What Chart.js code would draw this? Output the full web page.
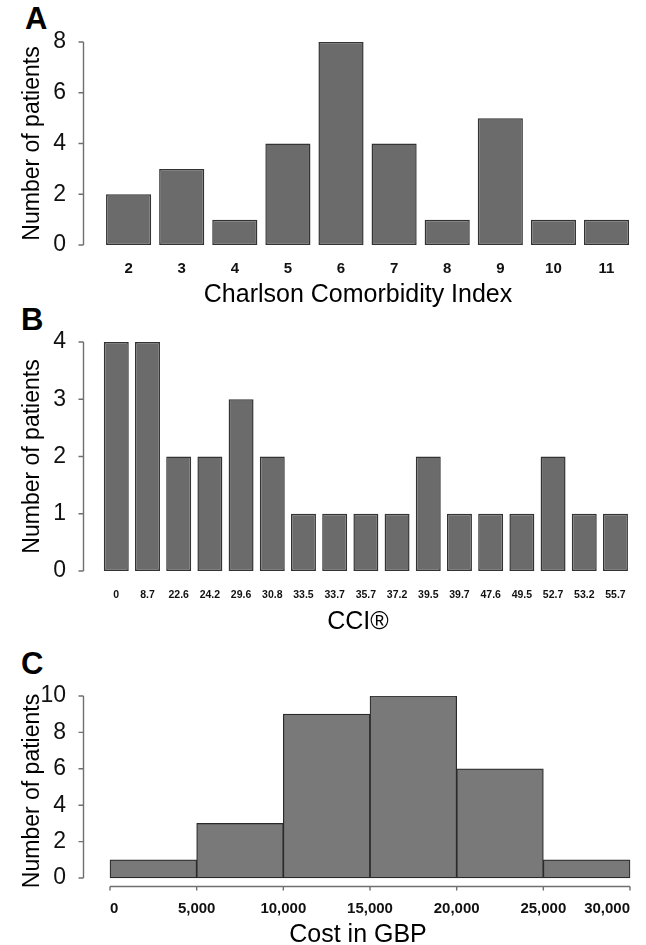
<!DOCTYPE html>
<html lang="en">
<head>
  <meta charset="UTF-8">
  <title>Patient distributions</title>
  <script src="https://cdn.jsdelivr.net/npm/chart.js"></script>
  <style>
    html, body {
      margin: 0;
      padding: 0;
      background: #fff;
      overflow: hidden;
    }
    #wrap {
      position: relative;
      width: 646px;
      height: 945px;
    }
    canvas {
      position: absolute;
      left: 0;
    }
    .tag {
      position: absolute;
      font-family: 'Liberation Sans', Arial, sans-serif;
      font-weight: bold;
      font-size: 31px;
      line-height: 31px;
      color: #000;
    }
  </style>
</head>
<body>
<div id="wrap">
  <div class="tag" style="left:25px; top:3px;">A</div>
  <div class="tag" style="left:21px; top:304px;">B</div>
  <div class="tag" style="left:21px; top:648px;">C</div>
  <canvas id="chartA" width="646" height="312" style="top:0px;"></canvas>
  <canvas id="chartB" width="646" height="325" style="top:312px;"></canvas>
  <canvas id="chartC" width="646" height="308" style="top:637px;"></canvas>
</div>

<script>
  // Panel A: Charlson Comorbidity Index
  const charlsonScores = [2, 3, 4, 5, 6, 7, 8, 9, 10, 11];
  const charlsonCounts = [2, 3, 1, 4, 8, 4, 1, 5, 1, 1];
  const charlsonTicks = [0, 2, 4, 6, 8];

  // Panel B: CCI
  const cciLabels = ['0', '8.7', '22.6', '24.2', '29.6', '30.8', '33.5', '33.7', '35.7',
                     '37.2', '39.5', '39.7', '47.6', '49.5', '52.7', '53.2', '55.7'];
  const cciCounts = [4, 4, 2, 2, 3, 2, 1, 1, 1, 1, 2, 1, 1, 1, 2, 1, 1];
  const cciTicks = [0, 1, 2, 3, 4];

  // Panel C: cost histogram (5,000 GBP bins)
  const costBinMids = [2500, 7500, 12500, 17500, 22500, 27500];
  const costCounts = [1, 3, 9, 10, 6, 1];
  const costXTicks = [0, 5000, 10000, 15000, 20000, 25000, 30000];
  const costYTicks = [0, 2, 4, 6, 8, 10];

  const FONT = "'Liberation Sans', Arial, sans-serif";
  const AXIS_GREY = '#6f6f6f';

  // R-style axis line: only from first to last tick, plus the tick marks
  const rAxes = {
    id: 'rAxes',
    afterDraw(chart) {
      const ctx = chart.ctx;
      const area = chart.chartArea;
      const axes = chart.config.options.rLines || [];
      ctx.save();
      ctx.strokeStyle = AXIS_GREY;
      ctx.lineWidth = 1.4;
      axes.forEach(id => {
        const s = chart.scales[id];
        const px = s.ticks.map(t => s.getPixelForValue(t.value));
        const a = px[0];
        const b = px[px.length - 1];
        ctx.beginPath();
        if (id === 'x') {
          const y0 = Math.round(area.bottom) + 0.5;
          ctx.moveTo(a, y0);
          ctx.lineTo(b, y0);
          px.forEach(p => { ctx.moveTo(p, y0); ctx.lineTo(p, y0 + 4); });
        } else {
          const x0 = Math.round(area.left) - 0.5;
          ctx.moveTo(x0, a);
          ctx.lineTo(x0, b);
          px.forEach(p => { ctx.moveTo(x0, p); ctx.lineTo(x0 - 5, p); });
        }
        ctx.stroke();
      });
      ctx.restore();
    }
  };

  function yAxis(min, max, tickVals) {
    return {
      type: 'linear',
      min: min,
      max: max,
      afterBuildTicks: s => { s.ticks = tickVals.map(v => ({ value: v })); },
      afterFit: s => { s.width = 84; },
      grid: { display: false },
      border: { display: false },
      ticks: { padding: 10, color: '#111', font: { family: FONT, size: 23 } },
      title: {
        display: true,
        text: 'Number of patients',
        color: '#000',
        font: { family: FONT, size: 23 },
        padding: { top: 19, bottom: 0 }
      }
    };
  }

  function makeBarChart(id, opts) {
    return new Chart(document.getElementById(id), {
      type: 'bar',
      data: {
        datasets: [{
          data: opts.xs.map((x, i) => ({ x: x, y: opts.ys[i] })),
          backgroundColor: opts.fill,
          borderColor: opts.stroke,
          borderWidth: opts.strokeWidth,
          borderSkipped: false,
          barPercentage: opts.barPct,
          categoryPercentage: 1
        }]
      },
      options: {
        responsive: false,
        animation: false,
        events: [],
        rLines: opts.lineAxes,
        layout: { padding: { top: opts.padTop, right: 14, left: 0, bottom: 0 } },
        plugins: {
          legend: { display: false },
          tooltip: { enabled: false }
        },
        scales: {
          x: {
            type: 'linear',
            offset: false,
            min: opts.xMin,
            max: opts.xMax,
            afterBuildTicks: s => { s.ticks = opts.xTicks.map(v => ({ value: v })); },
            afterFit: s => { s.height = opts.xHeight; },
            grid: { display: false, offset: false },
            border: { display: false },
            ticks: {
              autoSkip: false,
              maxRotation: 0,
              padding: opts.xLabelPad,
              align: opts.xAlign || 'center',
              color: '#111',
              font: opts.xFont,
              callback: opts.xLabel
            },
            title: {
              display: true,
              text: opts.xTitle,
              color: '#000',
              font: { family: FONT, size: 25, lineHeight: opts.titleLH || 1.2 },
              padding: { top: 0, bottom: opts.titlePadB }
            }
          },
          y: yAxis(opts.yMin, opts.yMax, opts.yTicks)
        }
      },
      plugins: [rAxes]
    });
  }

  makeBarChart('chartA', {
    xs: charlsonScores, ys: charlsonCounts,
    fill: '#6b6b6b', stroke: '#333', strokeWidth: 1.5, barPct: 0.85,
    padTop: 42, xHeight: 67, xLabelPad: 7, titlePadB: 2,
    xMin: 1.16, xMax: 11.48, xTicks: charlsonScores,
    xFont: { family: FONT, size: 15, weight: 'bold' },
    xLabel: v => String(v),
    xTitle: 'Charlson Comorbidity Index',
    yMin: 0, yMax: 8, yTicks: charlsonTicks,
    lineAxes: ['y']
  });

  makeBarChart('chartB', {
    xs: cciLabels.map((_, i) => i), ys: cciCounts,
    fill: '#6b6b6b', stroke: '#333', strokeWidth: 1.5, barPct: 0.8,
    padTop: 30, xHeight: 66, xLabelPad: 10, titlePadB: 0,
    xMin: -1.035, xMax: 16.53, xTicks: cciLabels.map((_, i) => i),
    xFont: { family: "'Liberation Sans Narrow', 'Liberation Sans', Arial, sans-serif", size: 10.5, weight: 'bold' },
    xLabel: v => cciLabels[v],
    xTitle: 'CCI®',
    yMin: 0, yMax: 4, yTicks: cciTicks,
    lineAxes: ['y']
  });

  makeBarChart('chartC', {
    xs: costBinMids, ys: costCounts,
    fill: '#797979', stroke: '#2a2a2a', strokeWidth: 1.2, barPct: 1,
    padTop: 59, xHeight: 59, xLabelPad: 6, titlePadB: 0, titleLH: 0.8,
    xMin: -1500, xMax: 30115, xTicks: costXTicks,
    xAlign: 'inner',
    xFont: { family: FONT, size: 15, weight: 'bold' },
    xLabel: v => v.toLocaleString('en-US'),
    xTitle: 'Cost in GBP',
    yMin: -0.44, yMax: 10, yTicks: costYTicks,
    lineAxes: ['y', 'x']
  });
</script>
</body>
</html>
